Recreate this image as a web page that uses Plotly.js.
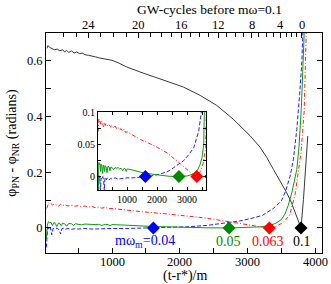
<!DOCTYPE html>
<html>
<head>
<meta charset="utf-8">
<script src="https://cdn.plot.ly/plotly-3.0.1.min.js"></script>
<style>html,body{margin:0;padding:0;background:#fff;}#chart{width:331px;height:284px;}</style>
</head>
<body>
<div id="chart"></div>
<script>
// ---- data ----
// m-omega = 0.1 (black, solid)
const blackT = [40, 55, 80, 110, 150, 190, 230, 270, 300, 330, 360, 400, 440, 480, 520, 560, 600, 650, 700, 760, 820, 880, 950, 1000, 1100, 1217, 1414, 1561, 1709, 2053, 2300, 2546, 2792, 3038, 3186, 3285, 3383, 3530, 3580, 3650, 3703, 3750, 3790, 3826, 3851, 3876, 3890];
const blackV = [0.645, 0.655, 0.648, 0.645, 0.640, 0.642, 0.636, 0.640, 0.632, 0.638, 0.630, 0.636, 0.628, 0.632, 0.626, 0.628, 0.622, 0.620, 0.616, 0.614, 0.610, 0.608, 0.604, 0.602, 0.592, 0.578, 0.560, 0.548, 0.536, 0.506, 0.476, 0.440, 0.390, 0.331, 0.290, 0.253, 0.210, 0.150, 0.126, 0.090, 0.054, 0.025, 0.000, 0.102, 0.210, 0.283, 0.330];
// m-omega = 0.04 (blue, dashed)
const blueT = [30, 40, 50, 70, 90, 110, 130, 160, 190, 220, 240, 260, 280, 310, 350, 400, 450, 500, 600, 700, 800, 900, 1000, 1200, 1400, 1610, 1800, 2110, 2400, 2553, 2700, 2887, 3050, 3220, 3387, 3500, 3560, 3629, 3678, 3728, 3770, 3802, 3825];
const blueV = [-0.07, -0.01, 0.002, -0.006, 0.001, -0.025, -0.002, -0.004, 0.0, -0.008, -0.022, -0.003, -0.001, -0.005, -0.002, -0.005, -0.003, -0.004, -0.002, -0.004, -0.003, -0.003, -0.002, -0.002, -0.001, 0.0, 0.001, 0.004, 0.009, 0.014, 0.019, 0.025, 0.034, 0.045, 0.071, 0.097, 0.13, 0.186, 0.247, 0.354, 0.48, 0.595, 0.75];
// m-omega = 0.05 (green, solid)
const greenT = [30, 45, 60, 80, 100, 120, 140, 160, 185, 210, 230, 250, 270, 300, 330, 360, 400, 430, 460, 500, 550, 600, 650, 700, 750, 800, 850, 900, 940, 970, 1000, 1200, 1400, 1610, 1800, 2110, 2400, 2755, 3000, 3200, 3333, 3420, 3500, 3553, 3600, 3654, 3728, 3760, 3795, 3826, 3845];
const greenV = [-0.04, 0.01, 0.022, 0.018, 0.02, 0.008, 0.019, 0.017, 0.005, 0.018, 0.016, 0.008, 0.017, 0.015, 0.006, 0.016, 0.015, 0.009, 0.015, 0.014, 0.011, 0.014, 0.013, 0.014, 0.012, 0.013, 0.009, 0.013, 0.012, 0.008, 0.012, 0.010, 0.007, 0.005, 0.004, 0.0016, 0.0005, 0.0, 0.001, 0.004, 0.009, 0.017, 0.03, 0.05, 0.08, 0.126, 0.21, 0.29, 0.43, 0.6, 0.75];
// m-omega = 0.063 (red, dash-dot)
const redT = [35, 45, 60, 80, 100, 120, 150, 180, 210, 240, 270, 300, 350, 400, 450, 500, 550, 600, 650, 700, 750, 800, 850, 900, 950, 1000, 1200, 1443, 1777, 2000, 2333, 2553, 2777, 3000, 3110, 3250, 3355, 3440, 3530, 3620, 3703, 3752, 3790, 3837, 3860, 3872];
const redV = [0.07, 0.075, 0.09, 0.086, 0.088, 0.082, 0.087, 0.083, 0.078, 0.085, 0.080, 0.083, 0.079, 0.081, 0.078, 0.080, 0.076, 0.079, 0.075, 0.077, 0.073, 0.075, 0.071, 0.074, 0.069, 0.070, 0.064, 0.058, 0.051, 0.046, 0.037, 0.029, 0.020, 0.011, 0.006, 0.002, 0.0, 0.008, 0.02, 0.045, 0.12, 0.2, 0.27, 0.42, 0.6, 0.75];

// matching points (diamonds) and their labels
const matchT = [1610, 2728, 3323, 3790];
const matchV = [0, 0, 0, 0];
const matchLabels = ['mω<sub>m</sub>=0.04', '0.05', '0.063', '0.1'];
const matchLabelT = [1487, 2713, 3304, 3806];

// top axis: GW cycles before m-omega = 0.1
const cycleMajorT = [650, 1389, 2019, 2566, 3063, 3481, 3802];
const cycleMajorLabels = ['24', '20', '16', '12', '8', '4', '0'];
const cycleMinorT = [280, 468, 833, 1020, 1207, 1561, 1734, 1882, 2152, 2290, 2423, 2694, 2817, 2940, 3161, 3285, 3383, 3580, 3654, 3728];

// axis ticks
const xTickVals = [1000, 2000, 3000, 4000];
const xTickText = ['1000', '2000', '3000', '4000'];
const yTickVals = [0, 0.2, 0.4, 0.6];
const yTickText = ['0', '0.2', '0.4', '0.6'];
const insetXTickVals = [1000, 2000, 3000];
const insetXTickText = ['1000', '2000', '3000'];
const insetYTickVals = [0, 0.05, 0.1];
const insetYTickText = ['0', '0.05', '0.1'];

// ---- styles ----
const cBlack = '#3a3a3a', cBlue = '#2020ff', cGreen = '#119911', cRed = '#ff2020';
const series = [
  {t: blueT, v: blueV, color: cBlue, dash: '4px,2px'},
  {t: greenT, v: greenV, color: cGreen, dash: 'solid'},
  {t: redT, v: redV, color: cRed, dash: '4px,2px,1px,2px'},
  {t: blackT, v: blackV, color: cBlack, dash: 'solid'}
];
const markerColors = ['#0000ff', '#008800', '#ff0000', '#000000'];

const traces = [];
series.forEach(s => {
  traces.push({x: s.t, y: s.v, xaxis: 'x', yaxis: 'y', mode: 'lines', line: {color: s.color, width: 1, dash: s.dash}, hoverinfo: 'skip'});
});
traces.push({x: matchT, y: matchV, xaxis: 'x', yaxis: 'y', mode: 'markers', marker: {symbol: 'diamond', size: 10, color: markerColors}, hoverinfo: 'skip'});
series.slice(0, 3).forEach(s => {
  traces.push({x: s.t, y: s.v, xaxis: 'x3', yaxis: 'y3', mode: 'lines', line: {color: s.color, width: 1, dash: s.dash}, hoverinfo: 'skip'});
});
traces.push({x: matchT, y: matchV, xaxis: 'x3', yaxis: 'y3', mode: 'markers', marker: {symbol: 'diamond', size: 10, color: markerColors}, hoverinfo: 'skip'});
// top axis carrier (no visible marks)
traces.push({x: [matchT[0]], y: [matchV[0]], xaxis: 'x2', yaxis: 'y', mode: 'markers', marker: {opacity: 0}, hoverinfo: 'skip'});

const font = 'Liberation Serif, Times New Roman, serif';
const axBase = {showgrid: false, zeroline: false, showline: true, linecolor: '#000', linewidth: 1, ticks: 'inside', tickcolor: '#000', tickwidth: 1, ticklen: 5};

const annotations = matchLabels.map((txt, i) => ({
  text: txt, x: matchLabelT[i], y: -0.049, xref: 'x', yref: 'y', showarrow: false,
  xanchor: 'center', yanchor: 'middle', font: {family: font, size: 14, color: markerColors[i]}
}));
// x axis title
annotations.push({
  text: '(t-r*)/m', x: (185 - 46) / 276, y: (253 - 275.5) / 220, xref: 'paper', yref: 'paper', showarrow: false,
  xanchor: 'center', yanchor: 'middle', font: {family: font, size: 14, color: '#000'}
});
// bottom tick labels
xTickVals.forEach((v, i) => annotations.push({
  text: xTickText[i], x: v, y: (253 - 262) / 220, xref: 'x', yref: 'paper', showarrow: false,
  xanchor: 'center', yanchor: 'middle', font: {family: font, size: 12.5, color: '#000'}
}));
// top tick labels
cycleMajorT.forEach((v, i) => annotations.push({
  text: cycleMajorLabels[i], x: v, y: (253 - 25) / 220, xref: 'x', yref: 'paper', showarrow: false,
  xanchor: 'center', yanchor: 'middle', font: {family: font, size: 12.5, color: '#000'}
}));

const layout = {
  width: 331, height: 284,
  margin: {l: 46, r: 9, t: 33, b: 31, pad: 0},
  paper_bgcolor: '#fff', plot_bgcolor: '#fff',
  showlegend: false,
  font: {family: font, size: 12, color: '#000'},
  title: {text: 'GW-cycles before mω=0.1', x: 196 / 331, xanchor: 'center', xref: 'paper', y: 1 - 9 / 284, yanchor: 'middle', font: {family: font, size: 13.5, color: '#000'}},
  xaxis: Object.assign({}, axBase, {
    domain: [0, 1], anchor: 'y', range: [25, 4100], mirror: false,
    tickmode: 'array', tickvals: xTickVals, showticklabels: false,
    minor: {tickmode: 'linear', tick0: 500, dtick: 1000, ticks: 'inside', ticklen: 5, tickcolor: '#000'}
  }),
  xaxis2: Object.assign({}, axBase, {
    overlaying: 'x', side: 'top', anchor: 'y', range: [25, 4100],
    tickmode: 'array', tickvals: cycleMajorT, showticklabels: false,
    minor: {tickmode: 'array', tickvals: cycleMinorT, ticks: 'inside', ticklen: 4, tickcolor: '#000'}
  }),
  yaxis: Object.assign({}, axBase, {
    domain: [0, 1], anchor: 'x', range: [-0.09, 0.7], mirror: 'ticks',
    tickmode: 'array', tickvals: yTickVals, ticktext: yTickText, tickfont: {size: 12.5},
    minor: {tickmode: 'linear', tick0: 0.1, dtick: 0.2, ticks: 'inside', ticklen: 5, tickcolor: '#000'},
    title: {text: 'φ<sub>PN</sub> - φ<sub>NR</sub> (radians)', font: {size: 14}, standoff: 6}
  }),
  xaxis3: Object.assign({}, axBase, {
    domain: [52 / 276, 160 / 276], anchor: 'y3', range: [30, 3630], mirror: 'ticks', ticklen: 3,
    tickmode: 'array', tickvals: insetXTickVals, ticktext: insetXTickText, tickfont: {size: 10},
    minor: {tickmode: 'linear', tick0: 500, dtick: 1000, ticks: 'inside', ticklen: 3, tickcolor: '#000'}
  }),
  yaxis3: Object.assign({}, axBase, {
    domain: [63 / 220, 141 / 220], anchor: 'x3', range: [-0.021, 0.101], mirror: 'ticks', ticklen: 3,
    tickmode: 'array', tickvals: insetYTickVals, ticktext: insetYTickText, tickfont: {size: 10},
    minor: {tickmode: 'linear', tick0: 0.025, dtick: 0.05, ticks: 'inside', ticklen: 3, tickcolor: '#000'}
  }),
  annotations: annotations
};

Plotly.newPlot('chart', traces, layout, {displayModeBar: false, staticPlot: true});
</script>
</body>
</html>
